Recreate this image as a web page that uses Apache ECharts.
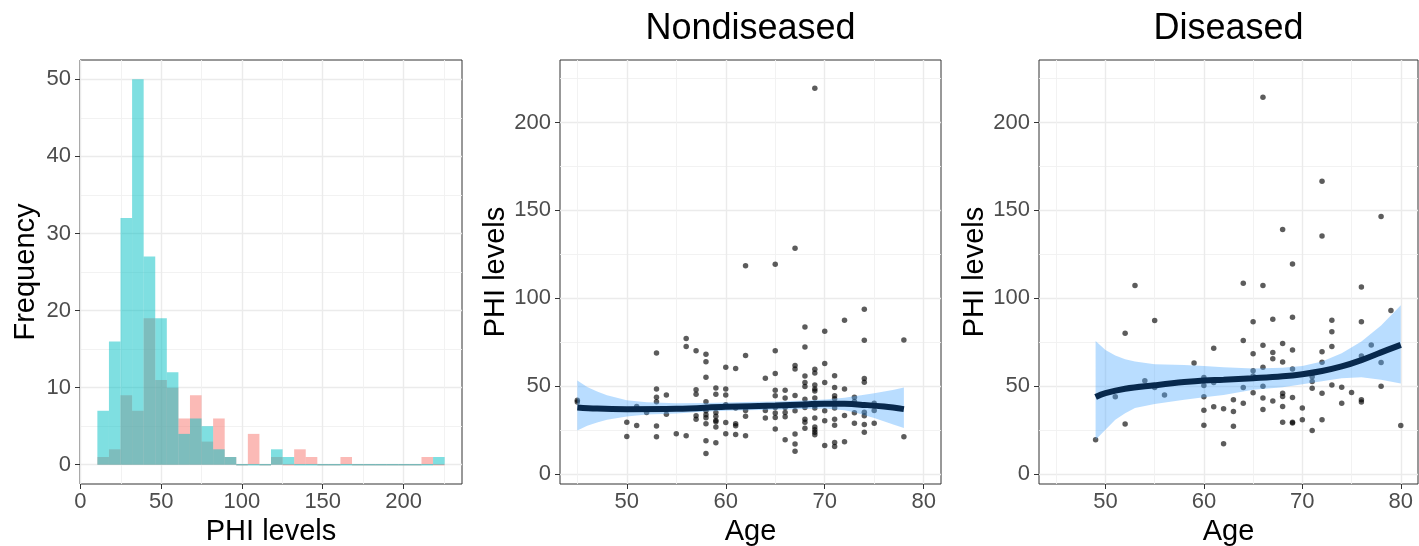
<!DOCTYPE html>
<html><head><meta charset="utf-8">
<script src="https://cdn.jsdelivr.net/npm/echarts@6/dist/echarts.min.js"></script>
<style>html,body{margin:0;padding:0;background:#fff}#c{width:1419px;height:546px}</style>
</head><body><div id="c"></div>
<script>
// ---------- Histogram (PHI levels) ----------
const binStart = 10.5;
const binWidth = 7.165;
const histNondiseased = [7,16,32,50,27,19,12,4,6,5,2,1,0,0,0,2,1,0,0,0,0,0,0,0,0,0,0,0,0,1];
const histDiseased    = [1,2,9,7,19,11,10,6,9,3,6,1,0,4,0,1,0,2,1,0,0,1,0,0,0,0,0,0,1,0];
const histXTicks = [0,50,100,150,200];
const histXMinor = [25,75,125,175,225];
const histYTicks = [0,10,20,30,40,50];
const histYMinor = [5,15,25,35,45];

// ---------- Nondiseased scatter ----------
const ndAge = [45,45,50,50,51,51,52,53,53,53,53,53,53,54,54,55,56,56,56,57,57,57,57,57,
58,58,58,58,58,58,58,58,58,58,59,59,59,59,59,59,59,59,60,60,60,60,60,60,61,61,61,61,61,
62,62,62,62,62,64,64,64,65,65,65,65,65,65,65,65,65,66,66,66,66,66,66,67,67,67,67,67,67,67,67,
68,68,68,68,68,68,68,68,68,68,69,69,69,69,69,69,69,69,69,69,69,69,69,69,70,70,70,70,70,70,
71,71,71,71,71,71,71,71,71,72,72,72,72,73,73,73,73,74,74,74,74,74,74,74,74,75,75,75,78,78];
const ndPhi = [42,41,29.5,21.4,38.4,27.6,35,68.9,48.3,43.7,41.1,27.3,21.2,45,34,22.9,77.1,72.5,21.8,
70.2,47.9,45.4,33.1,31.2,68.1,63.9,55.1,41.1,36,33.7,32,28.6,18.9,11.7,49,45.4,35,32.8,30.5,29.7,26.7,17.8,
60.8,48.3,45,39.4,29.3,22.9,60,37.5,28.6,27.4,22.5,118.5,67.4,36.2,32.8,21.8,54.5,36.2,31.8,
119.3,70.2,57.2,47.7,44.5,37.9,34.7,32.2,25.6,47.7,43.2,37.9,35,32.6,19.5,128.4,61.7,59.8,44.7,36,22.7,17,13,
83.7,72.3,55.7,52.1,49.8,42.6,37.9,31.2,29.4,26,219.5,59.6,57.4,50.6,48.3,47.2,43.2,38.8,37.5,31.8,26.7,25.2,23.7,22.3,
81.2,62.9,52.1,36,30.3,16.2,55.9,49.2,44.5,42.8,37.5,31.2,27.8,17.9,15.7,87.5,48.3,33.3,18.3,
43.7,41.3,34.8,28.9,93.7,76.1,54.4,52.2,35.2,33.1,28.2,23.8,40.3,36.2,28.9,76.3,21.2];
const ndFitAge = [45,47,50,55,60,65,68,70,72,74,76,78];
const ndFit    = [37.9,37.2,36.9,37.1,38.2,39.0,39.6,40.0,39.9,39.3,38.4,36.9];
const ndBandAge = [45,46,47,48,50,52,55,58,60,62,65,68,70,72,73,75,77,78];
const ndUpper   = [53.2,49.5,46.9,44.8,42.0,40.8,40.3,40.4,40.7,40.9,41.3,41.8,42.4,43.4,44.2,46.0,48.0,49.2];
const ndLower   = [24.8,27.5,29.3,30.8,32.7,33.8,34.4,35.5,36.0,36.3,36.5,37.0,37.2,36.3,35.2,31.8,28.0,26.1];

// ---------- Diseased scatter ----------
const dAge = [49,51,52,52,53,54,55,55,56,59,60,60,60,60,60,61,61,61,62,62,63,63,63,64,64,64,64,
65,65,65,65,65,66,66,66,66,66,66,66,67,67,67,67,68,68,68,68,68,68,68,69,69,69,69,69,69,69,
70,70,71,71,71,71,72,72,72,72,72,72,73,73,73,73,74,74,75,76,76,76,76,76,77,78,78,78,79,80];
const dPhi = [19.5,43.9,80.1,28.5,107.2,53,87.3,49.2,45,63.2,54.9,50.4,43.9,36.3,27.8,71.6,52.1,38.2,37.1,17.2,
42.2,35.6,27.2,108.5,75.9,49.2,40.3,86.7,68.4,58.8,55.8,46.2,214.4,107.2,73.3,60.8,49.9,43.3,36.7,
88,69.2,65.6,41.6,139.2,74.2,63.8,46,44.1,38.4,29.5,119.5,89.2,70.6,59.8,43.5,29.5,29,
37.6,30.8,55.4,52.6,48.8,24.8,166.6,135.4,69.5,63.6,46,30.8,87.5,80.9,72.5,50.7,49.4,40.3,46.4,
106.4,86.6,67.2,42.2,40.9,73.4,146.6,63.4,49.9,93,27.6];
const dFitAge = [49,50,52,55,58,60,62,65,68,70,72,74,76,78,80];
const dFit    = [43.8,46.0,48.5,50.5,52.3,53.2,53.6,54.5,55.6,56.8,58.6,61.2,64.8,69.2,73.5];
const dBandAge = [49,50,51,52,53,55,58,60,62,65,68,70,72,74,76,78,80];
const dUpper   = [75.7,70.6,67.4,65.3,64.0,62.5,62.0,61.5,60.8,60.0,60.5,61.5,64.0,68.7,75.4,84.5,96.0];
const dLower   = [19.5,25.2,30.8,34.6,37.5,39.8,42.2,43.7,45.0,47.9,49.4,51.1,52.8,54.5,55.1,53.6,51.5];

const ageTicks = [50,60,70,80];
const ageMinor = [45,55,65,75];
const phiTicks = [0,50,100,150,200];
const phiMinor = [25,75,125,175,225];

const panelTitles = ['Nondiseased','Diseased'];

// ---------- build ----------
const F = "'Liberation Sans', Arial, Helvetica, sans-serif";
const chart = echarts.init(document.getElementById('c'), null, {renderer:'canvas'});

function axisPair(kind, gi, min, max, major, minor, name, nameGap) {
  const common = {type:'value', gridIndex: gi, min: min, max: max};
  const main = Object.assign({}, common, {
    name: name, nameLocation:'middle', nameGap: nameGap,
    nameTextStyle:{fontSize:29, color:'#000', fontFamily:F},
    axisLine:{show:false, onZero:false},
    axisTick:{show:true, length:5, customValues: major, lineStyle:{color:'#333', width:1}},
    axisLabel:{show:true, customValues: major, fontSize:22, color:'#4d4d4d', fontFamily:F, margin: kind==='x' ? 7 : 9},
    splitLine:{show:true, lineStyle:{color:'#ebebeb', width:1.4}}
  });
  const minorAx = Object.assign({}, common, {
    axisLine:{show:false, onZero:false},
    axisTick:{show:false, customValues: minor},
    axisLabel:{show:false, customValues: minor},
    splitLine:{show:true, lineStyle:{color:'#f1f1f1', width:0.9}}
  });
  return [main, minorAx];
}

const xAxes = [].concat(
  axisPair('x', 0, -0.25, 236.2, histXTicks, histXMinor, 'PHI levels', 30),
  axisPair('x', 1, 43.25, 81.75, ageTicks, ageMinor, 'Age', 30),
  axisPair('x', 2, 43.25, 81.75, ageTicks, ageMinor, 'Age', 30)
);
const yAxes = [].concat(
  axisPair('y', 0, -2.5, 52.5, histYTicks, histYMinor, 'Frequency', 40),
  axisPair('y', 1, -5.7, 235.6, phiTicks, phiMinor, 'PHI levels', 50),
  axisPair('y', 2, -5.7, 235.6, phiTicks, phiMinor, 'PHI levels', 50)
);

function histSeries(counts, color) {
  const data = counts.map((c, i) => [binStart + i*binWidth, binStart + (i+1)*binWidth, c]);
  return {
    type:'custom', xAxisIndex:0, yAxisIndex:0, data: data, encode:{x:[0,1], y:2}, z:3, silent:true,
    renderItem: function(params, api) {
      const s = api.coord([api.value(0), api.value(2)]);
      const e = api.coord([api.value(1), 0]);
      let y = s[1], h = e[1] - s[1];
      if (h < 1.2) { y = e[1] - 0.7; h = 1.4; }
      return {type:'rect', shape:{x:s[0], y:y, width:e[0]-s[0], height:h}, style:{fill:color}};
    }
  };
}

function scatterSeries(axIdx, ages, phis) {
  return {type:'scatter', xAxisIndex:axIdx, yAxisIndex:axIdx, data: ages.map((a,i)=>[a, phis[i]]),
    symbolSize:5.5, itemStyle:{color:'rgba(0,0,0,0.8)'}, z:2, silent:true};
}
function bandSeries(axIdx, ages, lo, hi) {
  return {type:'custom', xAxisIndex:axIdx, yAxisIndex:axIdx, data:[[ages[0], lo[0]]], z:3, silent:true,
    renderItem: function(params, api) {
      const pts = [];
      for (let i = 0; i < ages.length; i++) pts.push(api.coord([ages[i], hi[i]]));
      for (let i = ages.length - 1; i >= 0; i--) pts.push(api.coord([ages[i], lo[i]]));
      return {type:'polygon', shape:{points:pts, smooth:0}, style:{fill:'rgba(80,170,255,0.4)'}};
    }};
}
function fitSeries(axIdx, ages, fit) {
  return {type:'line', xAxisIndex:axIdx, yAxisIndex:axIdx, data: ages.map((a,i)=>[a, fit[i]]),
    smooth:0.4, showSymbol:false, symbol:'none', z:4, silent:true,
    lineStyle:{color:'#08294d', width:6, cap:'butt'}};
}

const gridBase = {top:60, height:424, show:true, borderColor:'#333', borderWidth:1,
  backgroundColor:'transparent', containLabel:false, outerBoundsMode:'none'};

const option = {
  animation:false,
  backgroundColor:'#ffffff',
  grid:[
    Object.assign({}, gridBase, {left:80, width:382}),
    Object.assign({}, gridBase, {left:560, width:381}),
    Object.assign({}, gridBase, {left:1039, width:379})
  ],
  xAxis: xAxes,
  yAxis: yAxes,
  graphic: [
    {type:'text', x:750.5, y:11, style:{text:panelTitles[0], font:'36px ' + F, fill:'#000', align:'center', verticalAlign:'top'}},
    {type:'text', x:1228.5, y:11, style:{text:panelTitles[1], font:'36px ' + F, fill:'#000', align:'center', verticalAlign:'top'}}
  ],
  series: [
    histSeries(histDiseased, 'rgba(248,118,109,0.5)'),
    histSeries(histNondiseased, 'rgba(0,191,196,0.5)'),
    scatterSeries(2, ndAge, ndPhi),
    bandSeries(2, ndBandAge, ndLower, ndUpper),
    fitSeries(2, ndFitAge, ndFit),
    scatterSeries(4, dAge, dPhi),
    bandSeries(4, dBandAge, dLower, dUpper),
    fitSeries(4, dFitAge, dFit)
  ]
};
chart.setOption(option);
</script></body></html>
